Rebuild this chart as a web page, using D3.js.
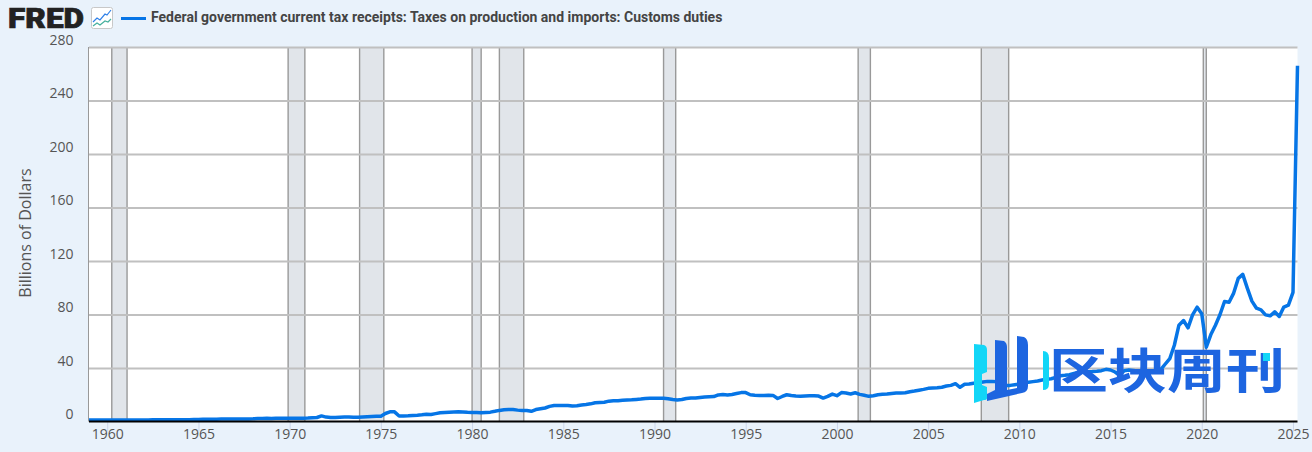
<!DOCTYPE html>
<html>
<head>
  <meta charset="utf-8">
  <script src="https://cdnjs.cloudflare.com/ajax/libs/d3/7.8.5/d3.min.js"></script>
  <style>
    html, body { margin: 0; padding: 0; background: #e9f2fb; }
    svg { display: block; }
    .tick text { font-family: "Open Sans", sans-serif; font-size: 14px; fill: #555; }
  </style>
  <title>Customs duties</title>
</head>
<body>
  <svg id="chart" width="1312" height="452"></svg>
  <script type="text/javascript">
    const seriesName = 'Federal government current tax receipts: Taxes on production and imports: Customs duties';
    const yAxisTitle = 'Billions of Dollars';
    const firstQuarter = '1959-01-01';
    const lastQuarter = '2025-04-01';

    // quarterly, one row per year, billions of dollars
    const customsDuties = [
      1.1, 1.1, 1.1, 1.1,      // 1959
      1.1, 1.1, 1.1, 1.1,
      1.1, 1.1, 1.1, 1.2,
      1.2, 1.2, 1.3, 1.3,
      1.3, 1.3, 1.3, 1.4,
      1.4, 1.4, 1.4, 1.5,
      1.5, 1.6, 1.6, 1.6,      // 1965
      1.7, 1.8, 1.8, 1.9,
      1.9, 1.9, 1.9, 1.9,
      2.0, 2.2, 2.3, 2.4,
      2.2, 2.5, 2.4, 2.4,
      2.4, 2.4, 2.5, 2.5,      // 1970
      2.6, 2.8, 3.0, 4.2,
      3.3, 3.0, 3.0, 3.2,
      3.3, 3.4, 3.2, 3.2,
      3.4, 3.6, 3.8, 3.9,
      4.0, 6.0, 7.2, 7.2,      // 1975
      4.1, 4.2, 4.3, 4.5,
      4.7, 5.0, 5.4, 5.3,
      5.9, 6.5, 6.8, 7.0,
      7.1, 7.2, 7.1, 6.9,
      6.8, 6.8, 6.6, 6.8,      // 1980
      7.0, 7.6, 8.3, 8.8,
      9.0, 8.9, 8.5, 8.2,
      8.2, 7.6, 8.9, 9.5,
      10.1, 11.3, 12.0, 12.0,
      12.0, 12.0, 11.6, 11.8,  // 1985
      12.3, 12.7, 13.2, 14.0,
      14.2, 14.4, 15.2, 15.5,
      15.5, 15.8, 16.0, 16.2,
      16.5, 16.8, 17.2, 17.3,
      17.3, 17.4, 17.4, 17.0,  // 1990
      16.4, 16.1, 16.4, 17.2,
      17.6, 17.5, 18.0, 18.4,
      18.5, 18.6, 19.9, 20.1,
      19.8, 20.2, 20.9, 21.6,
      21.6, 20.0, 19.6, 19.5,  // 1995
      19.4, 19.7, 19.5, 17.2,
      18.7, 20.0, 19.4, 19.0,
      18.9, 19.1, 19.2, 19.3,
      19.0, 17.5, 18.8, 20.5,
      19.3, 21.6, 21.3, 20.6,  // 2000
      21.5, 20.3, 19.6, 18.8,
      19.3, 20.0, 20.3, 20.5,
      21.0, 21.3, 21.3, 21.5,
      22.3, 22.8, 23.4, 24.0,
      24.8, 25.0, 25.2, 25.6,  // 2005
      26.5, 27.0, 28.3, 25.6,
      27.8, 28.0, 28.6, 29.0,
      29.5, 30.0, 30.0, 29.8,
      28.0, 27.0, 27.0, 27.5,
      28.0, 28.8, 29.3, 29.8,  // 2010
      30.3, 31.0, 31.6, 32.0,
      33.0, 34.2, 34.5, 35.0,
      36.0, 36.8, 37.0, 37.2,
      37.3, 37.5, 38.0, 39.0,
      38.5, 37.0, 34.5, 38.0,  // 2015
      38.5, 38.2, 37.8, 37.8,
      37.8, 38.0, 38.0, 38.8,
      43.0, 47.0, 57.0, 72.0,
      75.5, 70.0, 79.7, 85.5,
      80.5, 55.5, 65.0, 72.0,  // 2020
      80.0, 89.7, 89.2, 96.0,
      107.0, 110.0, 99.7, 90.0,
      84.7, 83.5, 79.7, 79.0,
      82.0, 78.5, 85.6, 87.0,
      96.6, 266.0             // 2025
    ];

    const recessionStarts = ['1960-04-01', '1969-12-01', '1973-11-01', '1980-01-01', '1981-07-01', '1990-07-01', '2001-03-01', '2007-12-01', '2020-02-01'];
    const recessionEnds = ['1961-02-01', '1970-11-01', '1975-03-01', '1980-07-01', '1982-11-01', '1991-03-01', '2001-11-01', '2009-06-01', '2020-04-01'];

    const yTicks = [0, 40, 80, 120, 160, 200, 240, 280];
    const xTickYears = [1960, 1965, 1970, 1975, 1980, 1985, 1990, 1995, 2000, 2005, 2010, 2015, 2020, 2025];

    const plotLeft = 89, plotRight = 1297.5, plotTop = 47, plotBottom = 421.5;
    const svg = d3.select('#chart');

    const x = d3.scaleUtc()
      .domain([new Date(firstQuarter), new Date(lastQuarter)])
      .range([plotLeft, plotRight]);
    const y = d3.scaleLinear().domain([0, 280]).range([plotBottom, plotTop]);

    // plot background
    svg.append('rect')
      .attr('x', plotLeft).attr('y', plotTop)
      .attr('width', plotRight - plotLeft).attr('height', plotBottom - plotTop)
      .attr('fill', '#fff');

    // recession bands
    const recessions = d3.zip(recessionStarts, recessionEnds);
    svg.append('g').selectAll('rect').data(recessions).join('rect')
      .attr('x', d => x(new Date(d[0])))
      .attr('y', plotTop)
      .attr('width', d => x(new Date(d[1])) - x(new Date(d[0])))
      .attr('height', plotBottom - plotTop)
      .attr('fill', '#e1e5ea');
    svg.append('g').selectAll('path').data(recessions.flat()).join('path')
      .attr('d', d => `M${x(new Date(d))},${plotTop}V${plotBottom}`)
      .attr('stroke', '#999').attr('stroke-width', 1.4);

    // y axis with gridlines
    const yAxis = d3.axisLeft(y).tickValues(yTicks).tickSize(0).tickPadding(0);
    const yG = svg.append('g').attr('transform', `translate(${plotLeft},0)`).call(yAxis);
    yG.select('.domain').remove();
    yG.selectAll('.tick text').attr('x', -15.5).attr('y', -7);
    yG.selectAll('.tick').filter(d => d > 0).append('line')
      .attr('x1', 0).attr('x2', plotRight - plotLeft)
      .attr('stroke', '#c0c0c0').attr('stroke-width', 2);

    svg.append('path')
      .attr('d', `M${plotLeft - 0.5},${plotTop}V${plotBottom}`)
      .attr('stroke', '#999').attr('stroke-width', 1);

    // x axis
    const xAxis = d3.axisBottom(x)
      .tickValues(xTickYears.map(yr => new Date(Date.UTC(yr, 0, 1))))
      .tickFormat(d3.utcFormat('%Y'))
      .tickSize(10).tickPadding(0);
    const xG = svg.append('g').attr('transform', `translate(0,${plotBottom})`).call(xAxis);
    xG.select('.domain').remove();
    xG.selectAll('.tick line').attr('stroke', '#ccd6eb');
    xG.selectAll('.tick text').attr('y', 8).attr('dy', '0.71em');

    // series
    const quarters = d3.utcMonth.range(new Date(firstQuarter), d3.utcMonth.offset(new Date(lastQuarter), 1), 3);
    const line = d3.line()
      .x((d, i) => x(quarters[i]))
      .y(d => y(d))
      .curve(d3.curveLinear);
    svg.append('path')
      .datum(customsDuties)
      .attr('d', line)
      .attr('fill', 'none')
      .attr('stroke', '#0675e6')
      .attr('stroke-width', 3.5)
      .attr('stroke-linejoin', 'round');

    // baseline sits on top of the line
    svg.append('path')
      .attr('d', `M${plotLeft},${plotBottom}H${plotRight}`)
      .attr('stroke', '#000').attr('stroke-width', 2);

    svg.append('text')
      .attr('transform', 'translate(30.5,233) rotate(-90)')
      .attr('text-anchor', 'middle')
      .attr('font-family', '"Open Sans", sans-serif')
      .attr('font-size', 16)
      .attr('fill', '#555')
      .text(yAxisTitle);

    // header: logo, icon, legend
    svg.append('text')
      .attr('x', 8).attr('y', 27.5)
      .attr('font-family', 'Roboto, sans-serif')
      .attr('font-weight', 900)
      .attr('font-size', 27.5)
      .attr('textLength', 76)
      .attr('lengthAdjust', 'spacingAndGlyphs')
      .attr('fill', '#222')
      .attr('stroke', '#222').attr('stroke-width', 0.7)
      .text('FRED');
    svg.append('rect')
      .attr('x', 91.5).attr('y', 7.5).attr('width', 21).attr('height', 21).attr('rx', 2)
      .attr('fill', '#fff').attr('stroke', '#c8c8c8');
    svg.append('path')
      .attr('d', 'M93,22L97,18L100,20L105,14L107,15L111,10')
      .attr('fill', 'none').attr('stroke', '#2f80e8').attr('stroke-width', 1.2);
    svg.append('path')
      .attr('d', 'M93,26L97,23L100,25L105,21L108,22L111,19')
      .attr('fill', 'none').attr('stroke', '#45b09e').attr('stroke-width', 1.2);
    svg.append('path')
      .attr('d', 'M121,18.5H146')
      .attr('stroke', '#0675e6').attr('stroke-width', 3);
    svg.append('text')
      .attr('x', 151).attr('y', 22)
      .attr('font-family', 'Roboto, sans-serif')
      .attr('font-weight', 700)
      .attr('font-size', 14)
      .attr('fill', '#444')
      .text(seriesName);

    // watermark over the chart
    const wm = svg.append('g');
    wm.append('path')
      .attr('d', 'M974,344L984,345Q987,346 987,350V372L982,374V385L987,387V398Q987,400 984,400L974,403Z')
      .attr('fill', '#12d6f7');
    wm.append('path')
      .attr('d', 'M995,340L1004,341Q1007,343 1007,347V390L1017,388V336L1024,337Q1028,339 1028,345V386Q1028,392 1022,393L987,401V394L995,390Z')
      .attr('fill', '#1d65e0');
    wm.append('path')
      .attr('d', 'M1043,351Q1049,351 1049,358V384Q1049,390 1043,390Z')
      .attr('fill', '#12d6f7');
    wm.append('text')
      .attr('x', 1049).attr('y', 388)
      .attr('font-family', '"Noto Sans CJK SC", sans-serif')
      .attr('font-weight', 700)
      .attr('font-size', 48)
      .attr('textLength', 236)
      .attr('lengthAdjust', 'spacingAndGlyphs')
      .attr('fill', '#1d65e0')
      .text('区块周刊');
    wm.append('rect')
      .attr('x', 1263).attr('y', 353).attr('width', 7).attr('height', 8)
      .attr('fill', '#12d6f7');
  </script>
</body>
</html>
